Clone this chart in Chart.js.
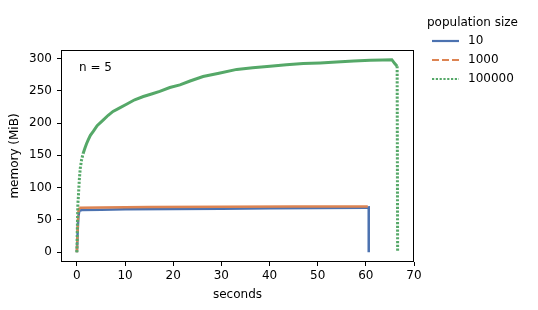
<!DOCTYPE html>
<html>
<head>
<meta charset="utf-8">
<script src="https://cdn.jsdelivr.net/npm/chart.js@4/dist/chart.umd.min.js"></script>
<style>
  html, body { margin: 0; padding: 0; background: #fff; }
  #wrap { width: 538px; height: 310px; }
</style>
</head>
<body>
<div id="wrap"><canvas id="myChart" width="538" height="310"></canvas></div>
<script>
// population size labels
const seriesNames = ["10", "1000", "100000"];

// population 10 (seconds, MiB)
const secs10 = [0, 0.15, 0.3, 0.5, 1, 5, 10, 20, 30, 40, 50, 60, 60.6, 60.6];
const mem10 = [0, 30, 55, 64, 65.5, 66, 66.5, 67, 67.5, 68, 68.5, 69, 69.5, 0];

// population 1000
const secs1000 = [0, 0.15, 0.3, 0.5, 5, 15, 30, 45, 60.4];
const mem1000 = [0, 35, 62, 69, 69.5, 70, 70.5, 71, 71];

// population 100000
const secs100000 = [0, 0.1, 0.2, 0.3, 0.5, 0.7, 0.97, 1.3, 1.66, 2.0, 2.35, 2.8, 3.4, 4.2,
  5.5, 6.5, 7.5, 8.8, 10.3, 12, 13.8, 15.5, 17.2, 19.3, 21.4, 23.5, 26.2, 29.5, 33.2,
  36.5, 40.1, 43.5, 47, 50.5, 53.9, 57.5, 60.9, 63.5, 65.4, 66.0, 66.5, 66.6];
const mem100000 = [0, 40, 75, 85, 112, 130, 143, 153, 161, 168, 174, 181, 187, 196,
  205, 212, 218, 223, 229, 236, 241, 245, 249, 255, 259, 265, 272, 277, 283,
  285.5, 288, 290, 292, 293, 294.5, 296, 297, 297.5, 298, 292, 288, 0];

const xTicks = [0, 10, 20, 30, 40, 50, 60, 70];
const yTicks = [0, 50, 100, 150, 200, 250, 300];

const colors = ["#4C72B0", "#DD8452", "#55A868"];
const dashes = [[], [7, 3], [2.2, 1.6]];

const toPts = (xs, ys) => xs.map((x, i) => ({ x: x, y: ys[i] }));

const seriesData = [
  toPts(secs10, mem10),
  toPts(secs1000, mem1000),
  toPts(secs100000, mem100000),
];

const FONT = "'DejaVu Sans', sans-serif";

// the five overlapping runs fill in the gaps on the flat parts,
// only the steep jumps still show the dash pattern
const steepDash = (dash) => (c) => {
  const dx = Math.abs(c.p1.x - c.p0.x);
  const dy = Math.abs(c.p1.y - c.p0.y);
  return dy > 4 * dx ? dash : [];
};

// frame, "n = 5" note and legend on the right
const extras = {
  id: "extras",
  afterDraw(chart) {
    const ctx = chart.ctx;
    const a = chart.chartArea;
    ctx.save();
    ctx.strokeStyle = "#000";
    ctx.lineWidth = 1;
    ctx.strokeRect(a.left + 0.5, a.top + 0.5, a.right - a.left - 1, a.bottom - a.top - 1);

    ctx.fillStyle = "#000";
    ctx.font = "12px " + FONT;
    ctx.textBaseline = "middle";
    ctx.textAlign = "left";
    ctx.fillText("n = 5", a.left + 18, a.top + 18);

    // legend
    ctx.fillText("population size", 427, 23);
    chart.data.datasets.forEach((ds, i) => {
      const y = 41 + i * 19;
      ctx.beginPath();
      ctx.strokeStyle = ds.borderColor;
      ctx.lineWidth = 2.2;
      ctx.setLineDash(dashes[i]);
      ctx.moveTo(432, y);
      ctx.lineTo(459, y);
      ctx.stroke();
      ctx.setLineDash([]);
      ctx.fillStyle = "#000";
      ctx.fillText(ds.label, 468, y);
    });
    ctx.restore();
  }
};

const config = {
  type: "line",
  data: {
    datasets: seriesNames.map((name, i) => ({
      label: name,
      data: seriesData[i],
      borderColor: colors[i],
      backgroundColor: colors[i],
      borderWidth: i === 2 ? 3 : 2.5,
      borderDash: dashes[i],
      segment: { borderDash: steepDash(dashes[i]) },
      pointRadius: 0,
      tension: 0,
      fill: false,
      order: 2 - i,
    })),
  },
  options: {
    responsive: false,
    animation: false,
    devicePixelRatio: 1,
    layout: { padding: { left: 0, right: 124, top: 50, bottom: 0 } },
    plugins: { legend: { display: false }, tooltip: { enabled: false } },
    scales: {
      x: {
        type: "linear",
        min: -3.3,
        max: 70,
        afterBuildTicks: (s) => { s.ticks = xTicks.map(v => ({ value: v })); },
        afterFit: (s) => { s.height = 48; },
        ticks: { color: "#000", font: { family: FONT, size: 12 }, padding: 3, maxRotation: 0 },
        grid: { display: true, drawOnChartArea: false, drawTicks: true, tickLength: 4, tickColor: "#000" },
        border: { display: false },
        title: { display: true, text: "seconds", color: "#000", font: { family: FONT, size: 12 }, padding: { top: 0, bottom: 8 } },
      },
      y: {
        type: "linear",
        min: -15,
        max: 313,
        afterBuildTicks: (s) => { s.ticks = yTicks.map(v => ({ value: v })); },
        afterFit: (s) => { s.width = 61; },
        ticks: { color: "#000", font: { family: FONT, size: 12 }, padding: 5 },
        grid: { display: true, drawOnChartArea: false, drawTicks: true, tickLength: 4, tickColor: "#000" },
        border: { display: false },
        title: { display: true, text: "memory (MiB)", color: "#000", font: { family: FONT, size: 12 }, padding: { top: 8, bottom: 0 } },
      },
    },
  },
  plugins: [extras],
};

var myChart = new Chart(document.getElementById("myChart"), config);
</script>
</body>
</html>
